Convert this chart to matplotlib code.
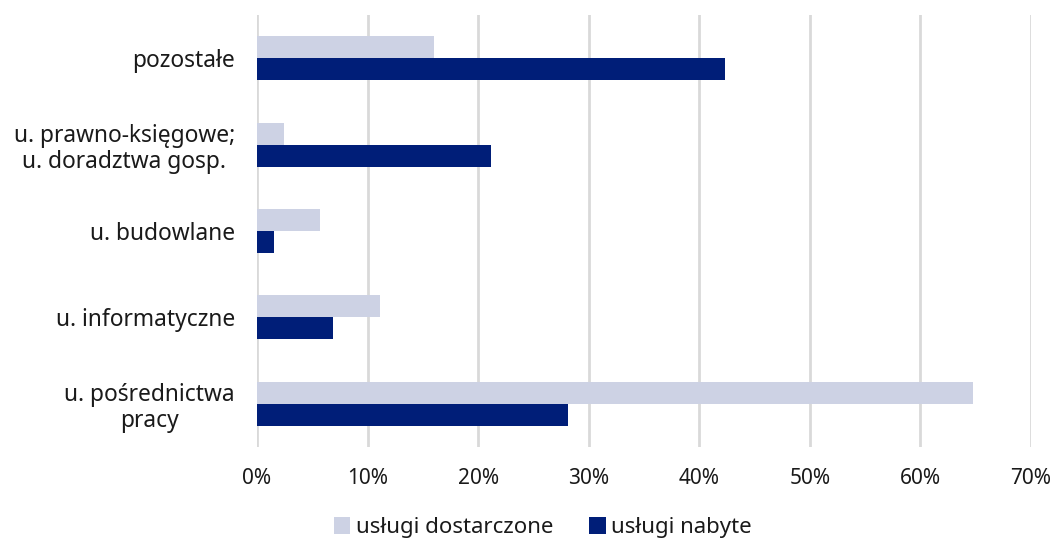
import matplotlib
matplotlib.use("Agg")
import matplotlib.pyplot as plt
from matplotlib.ticker import PercentFormatter
import numpy as np

plt.rcParams['font.family'] = ['Noto Sans', 'DejaVu Sans']

categories = ["u. pośrednictwa\npracy", "u. informatyczne", "u. budowlane",
              "u. prawno-księgowe;\nu. doradztwa gosp.", "pozostałe"]
dostarczone = [64.8, 11.1, 5.7, 2.4, 16.0]
nabyte = [28.1, 6.9, 1.5, 21.2, 42.3]
series_names = ["usługi dostarczone", "usługi nabyte"]
xticks = [0, 10, 20, 30, 40, 50, 60, 70]

c_light = "#CDD2E4"
c_dark = "#001E78"
txt = "#1a1a1a"

fig = plt.figure(figsize=(10.56, 5.42), dpi=100)
ax = fig.add_axes([0.2434, 0.1753, 0.7329, 0.7967])

y = np.arange(len(categories))
h = 0.255
ax.barh(y + h / 2, dostarczone, height=h, color=c_light, label=series_names[0], zorder=3)
ax.barh(y - h / 2, nabyte, height=h, color=c_dark, label=series_names[1], zorder=3)

ax.set_xlim(0, 70)
ax.set_ylim(-0.5, 4.5)
ax.set_xticks(xticks)
ax.xaxis.set_major_formatter(PercentFormatter(decimals=0))
ax.set_yticks(y)
ax.set_yticklabels(categories, fontsize=16.4, color=txt)
for lab in ax.get_yticklabels():
    lab.set_multialignment("center")
    lab.set_linespacing(1.1)
ax.tick_params(axis="y", length=0, pad=16)
ax.tick_params(axis="x", length=0, pad=15, labelsize=15, labelcolor=txt)
ax.grid(axis="x", color="#D9D9D9", linewidth=2, zorder=0)
for s in ax.spines.values():
    s.set_visible(False)

leg = fig.legend(loc="lower center", bbox_to_anchor=(0.514, -0.03), ncol=2, frameon=False,
                 fontsize=16, handlelength=0.75, handleheight=0.75, handletextpad=0.25,
                 columnspacing=1.6)
for t in leg.get_texts():
    t.set_color(txt)

fig.savefig("out.png", dpi=100)
